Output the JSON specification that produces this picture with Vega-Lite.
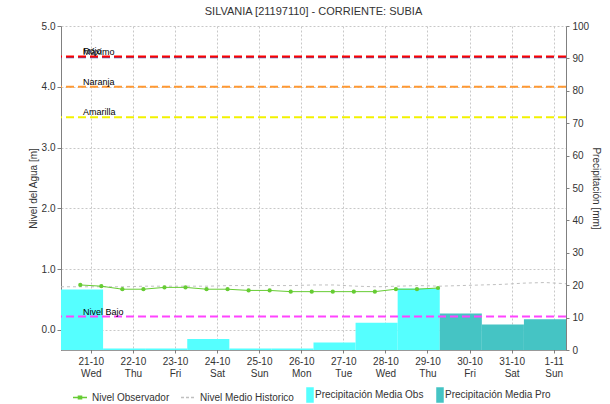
{
  "$schema": "https://vega.github.io/schema/vega-lite/v6.json",
  "width": 505,
  "height": 324,
  "autosize": {"type": "none"},
  "padding": {"left": 61, "top": 26, "right": 44, "bottom": 54},
  "background": "white",
  "title": {"text": "SILVANIA [21197110] - CORRIENTE: SUBIA", "fontSize": 11, "fontWeight": "normal", "color": "#333333", "font": "Liberation Sans", "offset": 4},
  "config": {
    "font": "Liberation Sans",
    "view": {"stroke": null},
    "axis": {
      "labelFont": "Liberation Sans", "titleFont": "Liberation Sans",
      "labelFontSize": 10, "labelColor": "#333333",
      "titleFontSize": 10, "titleFontWeight": "normal", "titleColor": "#333333",
      "gridColor": "#c8c8c8", "gridDash": [2, 2],
      "domainColor": "#808080", "tickColor": "#808080", "tickSize": 4
    },
    "legend": {
      "orient": "none", "legendX": 11, "legendY": 361, "direction": "horizontal",
      "labelFont": "Liberation Sans", "labelFontSize": 10, "labelColor": "#333333",
      "symbolSize": 196, "labelOffset": 4, "columnPadding": 8, "padding": 0
    }
  },
  "datasets": {
    "precip": [
      {"inicio": "2020-10-20T07:00:00Z", "fin": "2020-10-21T07:00:00Z", "mm": 18.7, "serie": "Precipitación Media Obs"},
      {"inicio": "2020-10-21T07:00:00Z", "fin": "2020-10-22T07:00:00Z", "mm": 0.5, "serie": "Precipitación Media Obs"},
      {"inicio": "2020-10-22T07:00:00Z", "fin": "2020-10-23T07:00:00Z", "mm": 0.5, "serie": "Precipitación Media Obs"},
      {"inicio": "2020-10-23T07:00:00Z", "fin": "2020-10-24T07:00:00Z", "mm": 3.4, "serie": "Precipitación Media Obs"},
      {"inicio": "2020-10-24T07:00:00Z", "fin": "2020-10-25T07:00:00Z", "mm": 0.5, "serie": "Precipitación Media Obs"},
      {"inicio": "2020-10-25T07:00:00Z", "fin": "2020-10-26T07:00:00Z", "mm": 0.5, "serie": "Precipitación Media Obs"},
      {"inicio": "2020-10-26T07:00:00Z", "fin": "2020-10-27T07:00:00Z", "mm": 2.3, "serie": "Precipitación Media Obs"},
      {"inicio": "2020-10-27T07:00:00Z", "fin": "2020-10-28T07:00:00Z", "mm": 8.4, "serie": "Precipitación Media Obs"},
      {"inicio": "2020-10-28T07:00:00Z", "fin": "2020-10-29T07:00:00Z", "mm": 19.0, "serie": "Precipitación Media Obs"},
      {"inicio": "2020-10-29T07:00:00Z", "fin": "2020-10-30T07:00:00Z", "mm": 11.3, "serie": "Precipitación Media Pro"},
      {"inicio": "2020-10-30T07:00:00Z", "fin": "2020-10-31T07:00:00Z", "mm": 7.9, "serie": "Precipitación Media Pro"},
      {"inicio": "2020-10-31T07:00:00Z", "fin": "2020-11-01T07:00:00Z", "mm": 9.5, "serie": "Precipitación Media Pro"}
    ],
    "obs": [
      {"fecha": "2020-10-20T18:00:00Z", "nivel": 0.74, "serie": "Nivel Observador"},
      {"fecha": "2020-10-21T06:00:00Z", "nivel": 0.72, "serie": "Nivel Observador"},
      {"fecha": "2020-10-21T18:00:00Z", "nivel": 0.67, "serie": "Nivel Observador"},
      {"fecha": "2020-10-22T06:00:00Z", "nivel": 0.67, "serie": "Nivel Observador"},
      {"fecha": "2020-10-22T18:00:00Z", "nivel": 0.70, "serie": "Nivel Observador"},
      {"fecha": "2020-10-23T06:00:00Z", "nivel": 0.70, "serie": "Nivel Observador"},
      {"fecha": "2020-10-23T18:00:00Z", "nivel": 0.67, "serie": "Nivel Observador"},
      {"fecha": "2020-10-24T06:00:00Z", "nivel": 0.67, "serie": "Nivel Observador"},
      {"fecha": "2020-10-24T18:00:00Z", "nivel": 0.65, "serie": "Nivel Observador"},
      {"fecha": "2020-10-25T06:00:00Z", "nivel": 0.65, "serie": "Nivel Observador"},
      {"fecha": "2020-10-25T18:00:00Z", "nivel": 0.63, "serie": "Nivel Observador"},
      {"fecha": "2020-10-26T06:00:00Z", "nivel": 0.63, "serie": "Nivel Observador"},
      {"fecha": "2020-10-26T18:00:00Z", "nivel": 0.63, "serie": "Nivel Observador"},
      {"fecha": "2020-10-27T06:00:00Z", "nivel": 0.63, "serie": "Nivel Observador"},
      {"fecha": "2020-10-27T18:00:00Z", "nivel": 0.63, "serie": "Nivel Observador"},
      {"fecha": "2020-10-28T06:00:00Z", "nivel": 0.67, "serie": "Nivel Observador"},
      {"fecha": "2020-10-28T18:00:00Z", "nivel": 0.67, "serie": "Nivel Observador"},
      {"fecha": "2020-10-29T06:00:00Z", "nivel": 0.69, "serie": "Nivel Observador"}
    ],
    "hist": [
      {"fecha": "2020-10-20T07:00:00Z", "nivel": 0.71, "serie": "Nivel Medio Historico"},
      {"fecha": "2020-10-20T19:00:00Z", "nivel": 0.71, "serie": "Nivel Medio Historico"},
      {"fecha": "2020-10-21T07:00:00Z", "nivel": 0.71, "serie": "Nivel Medio Historico"},
      {"fecha": "2020-10-21T19:00:00Z", "nivel": 0.71, "serie": "Nivel Medio Historico"},
      {"fecha": "2020-10-22T07:00:00Z", "nivel": 0.72, "serie": "Nivel Medio Historico"},
      {"fecha": "2020-10-22T19:00:00Z", "nivel": 0.72, "serie": "Nivel Medio Historico"},
      {"fecha": "2020-10-23T07:00:00Z", "nivel": 0.72, "serie": "Nivel Medio Historico"},
      {"fecha": "2020-10-23T19:00:00Z", "nivel": 0.72, "serie": "Nivel Medio Historico"},
      {"fecha": "2020-10-24T07:00:00Z", "nivel": 0.73, "serie": "Nivel Medio Historico"},
      {"fecha": "2020-10-24T19:00:00Z", "nivel": 0.73, "serie": "Nivel Medio Historico"},
      {"fecha": "2020-10-25T07:00:00Z", "nivel": 0.73, "serie": "Nivel Medio Historico"},
      {"fecha": "2020-10-25T19:00:00Z", "nivel": 0.73, "serie": "Nivel Medio Historico"},
      {"fecha": "2020-10-26T07:00:00Z", "nivel": 0.74, "serie": "Nivel Medio Historico"},
      {"fecha": "2020-10-26T19:00:00Z", "nivel": 0.74, "serie": "Nivel Medio Historico"},
      {"fecha": "2020-10-27T07:00:00Z", "nivel": 0.72, "serie": "Nivel Medio Historico"},
      {"fecha": "2020-10-27T19:00:00Z", "nivel": 0.71, "serie": "Nivel Medio Historico"},
      {"fecha": "2020-10-28T07:00:00Z", "nivel": 0.72, "serie": "Nivel Medio Historico"},
      {"fecha": "2020-10-28T19:00:00Z", "nivel": 0.73, "serie": "Nivel Medio Historico"},
      {"fecha": "2020-10-29T07:00:00Z", "nivel": 0.72, "serie": "Nivel Medio Historico"},
      {"fecha": "2020-10-29T19:00:00Z", "nivel": 0.73, "serie": "Nivel Medio Historico"},
      {"fecha": "2020-10-30T07:00:00Z", "nivel": 0.74, "serie": "Nivel Medio Historico"},
      {"fecha": "2020-10-30T19:00:00Z", "nivel": 0.75, "serie": "Nivel Medio Historico"},
      {"fecha": "2020-10-31T07:00:00Z", "nivel": 0.77, "serie": "Nivel Medio Historico"},
      {"fecha": "2020-10-31T19:00:00Z", "nivel": 0.78, "serie": "Nivel Medio Historico"},
      {"fecha": "2020-11-01T07:00:00Z", "nivel": 0.76, "serie": "Nivel Medio Historico"}
    ],
    "umbrales": [
      {"umbral": "Máximo", "nivel": 4.485},
      {"umbral": "Rojo", "nivel": 4.5},
      {"umbral": "Naranja", "nivel": 4.0},
      {"umbral": "Amarilla", "nivel": 3.5},
      {"umbral": "Nivel Bajo", "nivel": 0.22}
    ]
  },
  "layer": [
    {
      "data": {"name": "precip"},
      "mark": {"type": "bar"},
      "encoding": {
        "x": {
          "field": "inicio", "type": "temporal",
          "scale": {"type": "utc", "nice": false, "domain": [
            {"year": 2020, "month": 10, "date": 20, "hours": 7, "utc": true},
            {"year": 2020, "month": 11, "date": 1, "hours": 7, "utc": true}
          ]},
          "axis": {
            "title": null,
            "values": [
              {"year": 2020, "month": 10, "date": 21, "utc": true},
              {"year": 2020, "month": 10, "date": 22, "utc": true},
              {"year": 2020, "month": 10, "date": 23, "utc": true},
              {"year": 2020, "month": 10, "date": 24, "utc": true},
              {"year": 2020, "month": 10, "date": 25, "utc": true},
              {"year": 2020, "month": 10, "date": 26, "utc": true},
              {"year": 2020, "month": 10, "date": 27, "utc": true},
              {"year": 2020, "month": 10, "date": 28, "utc": true},
              {"year": 2020, "month": 10, "date": 29, "utc": true},
              {"year": 2020, "month": 10, "date": 30, "utc": true},
              {"year": 2020, "month": 10, "date": 31, "utc": true},
              {"year": 2020, "month": 11, "date": 1, "utc": true}
            ],
            "labelExpr": "[utcFormat(datum.value, '%-d-%m'), utcFormat(datum.value, '%a')]",
            "labelLineHeight": 12, "labelPadding": 3, "tickSize": 3,
            "grid": true, "domainDash": [1, 1], "domainColor": "#333333"
          }
        },
        "x2": {"field": "fin"},
        "y": {
          "field": "mm", "type": "quantitative",
          "scale": {"domain": [0, 100], "nice": false},
          "axis": {"orient": "right", "title": "Precipitación [mm]", "values": [0, 10, 20, 30, 40, 50, 60, 70, 80, 90, 100], "grid": false, "tickSize": 3, "labelPadding": 3, "titlePadding": 2}
        },
        "y2": {"datum": 0},
        "color": {
          "field": "serie", "type": "nominal",
          "scale": {
            "domain": ["Nivel Observador", "Nivel Medio Historico", "Precipitación Media Obs", "Precipitación Media Pro"],
            "range": ["#66cc33", "#c0c0c0", "#55ffff", "#45c4c4"]
          },
          "legend": {
            "title": null,
            "encode": {
              "symbols": {
                "update": {
                  "shape": {"signal": "datum.value === 'Nivel Observador' ? 'M-1,0H1M-0.22,-0.18H0.22V0.18H-0.22Z' : (datum.value === 'Nivel Medio Historico' ? 'M-1,0H1' : 'M-0.43,-1H0.43V1H-0.43Z')"},
                  "fill": {"signal": "datum.value === 'Nivel Medio Historico' ? 'transparent' : scale('color', datum.value)"},
                  "stroke": {"signal": "datum.value === 'Nivel Observador' || datum.value === 'Nivel Medio Historico' ? scale('color', datum.value) : 'transparent'"},
                  "strokeWidth": {"value": 1.5},
                  "strokeDash": {"signal": "datum.value === 'Nivel Medio Historico' ? [3, 2] : [1, 0]"},
                  "opacity": {"value": 1}
                }
              },
              "labels": {
                "update": {
                  "dx": {"signal": "datum.value === 'Precipitación Media Obs' || datum.value === 'Precipitación Media Pro' ? -7 : 0"}
                }
              }
            }
          }
        }
      }
    },
    {
      "layer": [
        {
          "data": {"name": "umbrales"},
          "mark": {"type": "rule", "strokeWidth": 2, "strokeDash": [8, 4]},
          "encoding": {
            "y": {
              "field": "nivel", "type": "quantitative",
              "scale": {"domain": [-0.33, 5.0], "nice": false, "zero": false},
              "axis": {"orient": "left", "title": "Nivel del Agua [m]", "values": [0, 0.5, 1, 1.5, 2, 2.5, 3, 3.5, 4, 4.5, 5], "format": ".1f", "grid": true, "labelPadding": 2, "titlePadding": 3}
            },
            "stroke": {
              "field": "umbral", "type": "nominal",
              "scale": {"domain": ["Máximo", "Rojo", "Naranja", "Amarilla", "Nivel Bajo"], "range": ["#5a5aa8", "#ff0000", "#ff9933", "#f2f200", "#ff44ff"]},
              "legend": null
            }
          }
        },
        {
          "data": {"name": "umbrales"},
          "mark": {"type": "text", "align": "left", "baseline": "alphabetic", "dy": -2, "fontSize": 9, "font": "Liberation Sans", "color": "#000000"},
          "encoding": {
            "x": {"datum": {"year": 2020, "month": 10, "date": 20, "hours": 19, "minutes": 30, "utc": true}, "type": "temporal"},
            "y": {"field": "nivel", "type": "quantitative"},
            "text": {"field": "umbral"}
          }
        },
        {
          "data": {"name": "hist"},
          "mark": {"type": "line", "strokeWidth": 1, "strokeDash": [3, 3]},
          "encoding": {
            "x": {"field": "fecha", "type": "temporal"},
            "y": {"field": "nivel", "type": "quantitative"},
            "color": {"field": "serie", "type": "nominal"}
          }
        },
        {
          "data": {"name": "obs"},
          "mark": {"type": "line", "strokeWidth": 1, "point": {"filled": true, "size": 18}},
          "encoding": {
            "x": {"field": "fecha", "type": "temporal"},
            "y": {"field": "nivel", "type": "quantitative"},
            "color": {"field": "serie", "type": "nominal"}
          }
        },
        {
          "mark": {"type": "rule", "color": "#ff0000", "strokeWidth": 1},
          "encoding": {
            "x": {"datum": {"year": 2020, "month": 10, "date": 29, "hours": 9, "minutes": 20, "utc": true}, "type": "temporal"}
          }
        }
      ]
    }
  ],
  "resolve": {"scale": {"y": "independent"}}
}
